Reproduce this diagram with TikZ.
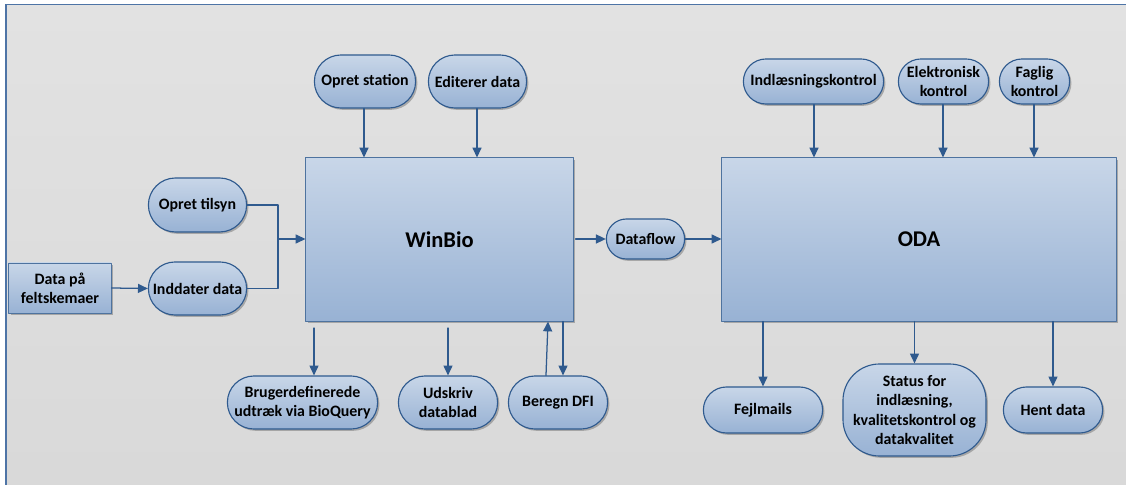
\documentclass[tikz,border=0pt]{standalone}
\usepackage{fontspec}
\setmainfont{Carlito}
\usepackage{tikz}
\usetikzlibrary{arrows.meta}
\usetikzlibrary{calc}
\usetikzlibrary{positioning}
\usetikzlibrary{shapes.misc}
\usetikzlibrary{shadows}
\definecolor{wb-frame}{HTML}{4E74A6}
\definecolor{wb-line}{HTML}{2F5A8E}
\definecolor{wb-top}{HTML}{C8D6E8}
\definecolor{wb-bottom}{HTML}{98B2D4}
\definecolor{wb-bgtop}{HTML}{E2E2E2}
\definecolor{wb-bgbottom}{HTML}{D8D8D8}

\begin{document}
\begin{tikzpicture}[x=0.025cm, y=-0.025cm, line cap=round, line join=round,
    every node/.style={font=\bfseries\fontsize{11.3}{13.6}\selectfont, align=center, inner sep=1pt},
    shade/.style={draw=wb-line, line width=0.8pt, top color=wb-top, bottom color=wb-bottom,
        drop shadow={shadow xshift=1.3pt, shadow yshift=-1.3pt, opacity=0.45, fill=black!60}},
    term/.style={rounded rectangle, shade},
    bigterm/.style={rectangle, rounded corners=26pt, shade},
    sysbox/.style={rectangle, shade, draw=wb-line!85, line width=0.7pt},
    flow/.style={draw=wb-line, line width=0.9pt, -{Triangle[length=7pt,width=6.4pt]}}]
    % frame
    \useasboundingbox (0,0) rectangle (1126,485);
    \begin{scope}
        \clip (0,0) rectangle (1126,485);
        \shade[top color=wb-bgtop, bottom color=wb-bgbottom] (6,4.5) rectangle (1180,530);
        \draw[draw=wb-frame, line width=1.3pt] (1200,4.5) -- (6,4.5) -- (6,530);
    \end{scope}

    % WinBio side
    \node[sysbox, minimum width=6.675cm, minimum height=4.075cm, font=\bfseries\fontsize{16}{19}\selectfont]
    (winbio) at (439.5,239.5) {WinBio};
    \node[term, minimum width=2.6cm, minimum height=1.325cm] (station) at (365,81.5) {Opret station};
    \node[term, minimum width=2.525cm, minimum height=1.325cm] (editerer) at (477.5,81.5) {Editerer data};
    \node[term, minimum width=2.525cm, minimum height=1.35cm] (tilsyn) at (197.5,205) {Opret tilsyn};
    \node[term, minimum width=2.525cm, minimum height=1.325cm] (inddater) at (197.5,288.5) {Inddater data};
    \node[sysbox, minimum width=2.55cm, minimum height=1.25cm] (skema) at (60,288) {Data på\\feltskemaer};
    \node[term, minimum width=3.825cm, minimum height=1.325cm] (bioquery) at (302.5,402.5) {Brugerdefinerede\\udtræk via BioQuery};
    \node[term, minimum width=2.55cm, minimum height=1.325cm] (udskriv) at (448,402.5) {Udskriv\\datablad};
    \node[term, minimum width=2.55cm, minimum height=1.325cm] (dfi) at (558,402.5) {Beregn DFI};

    % data flow
    \node[term, minimum width=2.025cm, minimum height=1cm] (dataflow) at (645.5,239) {Dataflow};

    % ODA side
    \node[sysbox, minimum width=9.85cm, minimum height=4.075cm, font=\bfseries\fontsize{16}{19}\selectfont]
    (oda) at (919,239.5) {ODA};
    \node[term, minimum width=3.575cm, minimum height=1.125cm] (indlaes) at (813.5,81.5) {Indlæsningskontrol};
    \node[term, minimum width=2.325cm, minimum height=1.125cm] (elektr) at (943.5,81.5) {Elektronisk\\kontrol};
    \node[term, minimum width=1.825cm, minimum height=1.125cm] (faglig) at (1034.5,81.5) {Faglig\\kontrol};
    \node[term, minimum width=3.05cm, minimum height=1.15cm] (fejl) at (763,410) {Fejlmails};
    \node[bigterm, minimum width=3.575cm, minimum height=2.3cm] (status) at (914.5,410)
    {Status for\\indlæsning,\\kvalitetskontrol og\\datakvalitet};
    \node[term, minimum width=2.55cm, minimum height=1.15cm] (hent) at (1053,410) {Hent data};

    % arrows into WinBio
    \coordinate (join) at (278,239);
    \draw[flow] (station.south -| 364,0) -- (winbio.north -| 364,0);
    \draw[flow] (editerer.south -| 477,0) -- (winbio.north -| 477,0);
    \draw[draw=wb-line, line width=0.9pt] (tilsyn.east) -| (join);
    \draw[draw=wb-line, line width=0.9pt] (inddater.east) -| (join);
    \draw[flow] (join) -- (join -| winbio.west);
    \draw[flow] (skema.east) -- (inddater.west);

    % arrows out of WinBio
    \coordinate (out1) at (314,328);
    \coordinate (out2) at (448,328);
    \draw[flow] (out1) -- (out1 |- bioquery.north);
    \draw[flow] (out2) -- (out2 |- udskriv.north);
    \draw[flow] (dfi.north -| 546,0) -- (winbio.south -| 548,0);
    \draw[flow] (winbio.south -| 563,0) -- (dfi.north -| 563,0);
    \draw[flow] ([xshift=1.5pt]winbio.east |- dataflow.west) -- (dataflow.west);
    \draw[flow] (dataflow.east) -- (dataflow.east -| oda.west);

    % arrows around ODA
    \draw[flow] (indlaes.south -| 814,0) -- (oda.north -| 814,0);
    \draw[flow] (elektr.south -| 943,0) -- (oda.north -| 943,0);
    \draw[flow] (faglig.south -| 1034,0) -- (oda.north -| 1034,0);
    \draw[flow] (oda.south -| fejl.north) -- (fejl.north);
    \draw[flow] (oda.south -| status.north) -- (status.north);
    \draw[flow] (oda.south -| hent.north) -- (hent.north);

\end{tikzpicture}
\end{document}
